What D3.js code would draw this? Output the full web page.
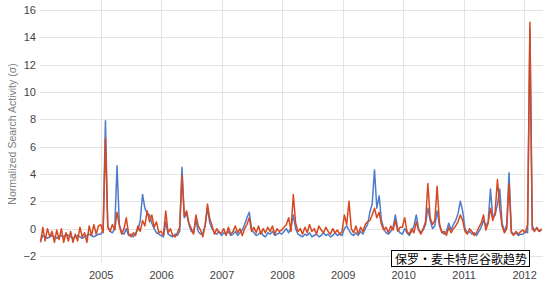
<!DOCTYPE html>
<meta charset="utf-8">
<style>
body { margin: 0; background: #fff; }
.grid line { stroke: #e4e4e4; stroke-width: 1px; shape-rendering: crispEdges; }
.tick text { font: 11px Arial, "Liberation Sans", sans-serif; fill: #444; }
.ytitle { font: 10.5px Arial, "Liberation Sans", sans-serif; fill: #808080; }
.line { fill: none; stroke-width: 1.5px; stroke-linejoin: round; }
.label text { font: 12px "Noto Sans CJK SC", sans-serif; fill: #000; }
</style>
<body>
<script src="https://cdn.jsdelivr.net/npm/d3@7"></script>
<script>

// biweekly samples, first one on 2004-01-04
var startDate = new Date(2004, 0, 4)
var stepDays = 14

var blue = [
  -0.9,-0.5,-0.6,-0.7,-0.6,-0.5,-0.6,-0.7,-0.6,-0.5,-0.6,-0.4,-0.5,-0.6,-0.7,-0.6,-0.5,-0.6,-0.7,-0.6,-0.5,-0.4,-0.5,-0.6,-0.5,-0.4,
  -0.4,-0.1,7.9,0.2,-0.2,-0.3,0.0,4.6,0.3,-0.3,-0.4,0.0,-0.5,-0.4,-0.6,-0.3,-0.1,0.6,2.5,1.5,1.1,1.0,0.4,0.0,-0.3,-0.4,
  -0.5,-0.6,0.5,-0.4,-0.5,-0.6,-0.4,-0.5,-0.2,4.5,0.8,1.1,0.3,-0.2,-0.3,0.6,-0.2,-0.4,-0.3,0.2,1.5,0.4,0.0,-0.3,-0.4,-0.2,
  -0.5,-0.3,-0.4,-0.2,-0.5,-0.4,-0.2,-0.5,-0.3,-0.1,0.3,0.8,1.2,0.0,-0.3,-0.5,-0.4,-0.2,-0.5,-0.6,-0.3,-0.4,-0.2,-0.5,-0.4,-0.3,
  -0.4,-0.2,0.0,-0.3,0.1,1.0,0.0,-0.4,-0.5,-0.6,-0.4,-0.5,-0.3,-0.6,-0.5,-0.4,-0.6,-0.5,-0.3,-0.5,-0.4,-0.6,-0.5,-0.3,-0.5,-0.4,
  -0.5,0.0,0.2,-0.1,-0.4,-0.5,-0.3,-0.5,-0.2,-0.4,0.0,0.3,1.2,1.8,4.3,1.5,2.4,0.6,0.0,-0.3,-0.4,-0.2,0.1,1.0,0.0,-0.3,
  -0.4,0.0,-0.3,-0.5,-0.2,0.2,1.0,0.0,-0.3,-0.1,0.3,1.5,0.6,0.0,0.2,1.3,0.2,-0.2,-0.4,-0.2,0.4,-0.1,0.3,0.6,1.1,2.0,
  1.3,0.0,-0.3,-0.2,-0.4,-0.3,-0.5,-0.2,0.1,0.6,0.2,0.5,2.9,0.8,1.0,1.8,2.9,0.4,-0.2,0.3,4.1,-0.2,-0.4,-0.3,-0.5,-0.4,
  -0.4,-0.2,-0.3,14.6,0.2,-0.1,0.0,-0.2,-0.1
]

var red = [
  -1.0,0.1,-0.9,0.0,-0.6,-0.2,-1.0,-0.1,-0.8,0.0,-1.0,-0.3,-0.9,-0.2,-1.0,-0.4,-0.9,0.1,-0.6,-0.3,-1.0,0.2,-0.5,0.3,-0.4,0.2,
  0.3,-0.3,6.6,0.1,-0.2,0.3,-0.1,1.2,0.2,-0.4,0.0,0.8,-0.4,-0.6,-0.3,-0.5,0.2,-0.2,0.6,0.2,1.3,0.5,1.0,0.1,0.5,-0.3,
  -0.2,-0.5,1.3,-0.3,0.0,-0.5,-0.6,-0.3,0.1,3.9,0.9,1.3,0.4,0.0,-0.4,1.0,0.2,-0.1,-0.6,0.3,1.8,0.7,0.2,-0.4,0.0,-0.3,
  -0.3,0.0,-0.5,0.1,-0.4,-0.2,0.2,-0.3,0.0,-0.5,0.0,0.3,0.8,-0.2,0.1,-0.3,0.2,-0.4,0.0,-0.3,0.1,-0.2,0.2,-0.4,0.0,-0.2,
  -0.1,0.1,0.3,0.8,-0.2,2.5,0.4,-0.2,0.0,-0.4,0.1,-0.3,0.3,-0.2,0.0,-0.4,0.2,-0.1,-0.3,0.1,-0.2,-0.4,0.0,-0.3,-0.1,-0.4,
  -0.2,1.0,0.3,2.0,0.0,-0.3,0.2,-0.4,0.1,-0.2,0.3,0.5,0.6,1.0,1.5,0.8,1.2,0.3,-0.1,0.1,-0.3,0.2,-0.1,0.6,-0.2,0.1,
  0.1,0.8,-0.2,-0.4,0.0,-0.3,0.5,-0.1,-0.4,0.0,0.5,3.3,0.8,0.3,0.6,3.1,0.4,-0.3,-0.2,-0.5,0.1,-0.3,0.0,0.2,0.5,1.0,
  0.6,-0.2,-0.4,0.0,-0.2,-0.5,-0.3,0.1,0.4,1.0,-0.1,0.4,1.5,0.6,1.2,3.6,1.5,0.2,-0.3,0.0,3.3,-0.3,-0.5,-0.2,-0.4,-0.2,
  -0.1,-0.3,0.3,15.1,0.0,-0.2,0.1,-0.2,0.0
]

var yTicks = [-2, 0, 2, 4, 6, 8, 10, 12, 14, 16]
var yearTicks = [2005, 2006, 2007, 2008, 2009, 2010, 2011, 2012]
var yTitle = "Normalized Search Activity (\u03c3)"
var caption = "保罗・麦卡特尼谷歌趋势"

var width = 554,
    height = 292;

var dates = blue.map(function(d, i) { return d3.timeDay.offset(startDate, i * stepDays) })

var x = d3.scaleTime()
    .domain([new Date(2004, 0, 1), new Date(2012, 3, 24)])
    .range([40, 543]);
var y = d3.scaleLinear()
    .domain([-2, 16])
    .range([256, 10]);

var svg = d3.select("body").append("svg")
    .attr("width", width)
    .attr("height", height);

// gridlines
var grid = svg.append("g").attr("class", "grid")
grid.selectAll(".h")
    .data(yTicks)
  .enter().append("line")
    .attr("x1", 40).attr("x2", 543)
    .attr("y1", d => Math.round(y(d)) + 0.5)
    .attr("y2", d => Math.round(y(d)) + 0.5)
grid.selectAll(".v")
    .data(yearTicks)
  .enter().append("line")
    .attr("x1", d => Math.round(x(new Date(d, 0, 1))) + 0.5)
    .attr("x2", d => Math.round(x(new Date(d, 0, 1))) + 0.5)
    .attr("y1", 0).attr("y2", 263)

// axes, labels only
var yAxis = d3.axisLeft(y).tickValues(yTicks).tickSize(0).tickPadding(2)
svg.append("g")
    .attr("transform", "translate(38,0)")
    .call(yAxis)
    .call(g => g.select(".domain").remove())

var xAxis = d3.axisBottom(x)
    .tickValues(yearTicks.map(d => new Date(d, 0, 1)))
    .tickFormat(d3.timeFormat("%Y"))
    .tickSize(0).tickPadding(0)
svg.append("g")
    .attr("transform", "translate(0,271)")
    .call(xAxis)
    .call(g => g.select(".domain").remove())

svg.append("text")
    .attr("class", "ytitle")
    .attr("transform", "translate(16,134) rotate(-90)")
    .attr("text-anchor", "middle")
    .text(yTitle)

var line = d3.line()
    .x((d, i) => x(dates[i]))
    .y(d => y(d))

svg.append("path")
    .datum(blue)
    .attr("class", "line")
    .attr("stroke", "#4d7ccc")
    .attr("d", line)
svg.append("path")
    .datum(red)
    .attr("class", "line")
    .attr("stroke", "#d8481f")
    .attr("d", line)

// caption box
var label = svg.append("g").attr("class", "label")
var lt = label.append("text")
    .attr("x", 395)
    .attr("y", 263.5)
    .text(caption)
var bb = lt.node().getBBox()
label.insert("rect", "text")
    .attr("x", Math.round(bb.x) - 3.5)
    .attr("y", 250.5)
    .attr("width", Math.round(bb.width) + 6)
    .attr("height", 16)
    .attr("fill", "#fff")
    .attr("stroke", "#000")
    .attr("stroke-width", 1)
</script>
